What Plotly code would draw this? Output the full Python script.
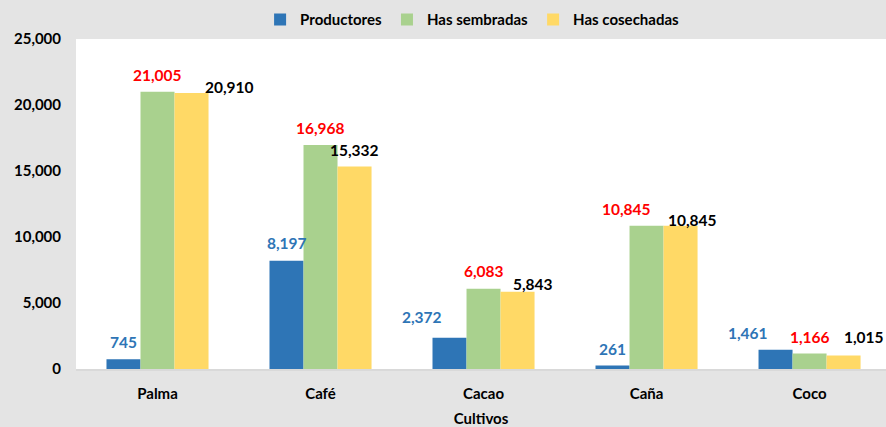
import plotly.graph_objects as go

# Crop data
cultivos = ["Palma", "Café", "Cacao", "Caña", "Coco"]
productores = [745, 8197, 2372, 261, 1461]
has_sembradas = [21005, 16968, 6083, 10845, 1166]
has_cosechadas = [20910, 15332, 5843, 10845, 1015]

y_ticks = [0, 5000, 10000, 15000, 20000, 25000]

series = [
    ("Productores", productores, "#2E75B6", "#2E75B6"),
    ("Has sembradas", has_sembradas, "#A9D18E", "#FF0000"),
    ("Has cosechadas", has_cosechadas, "#FFD966", "#000000"),
]

# Label nudges (px) relative to the default spot just above each bar
label_dx = [
    [0, 0, -28, 0, -28],
    [0, 0, 0, -20, 0],
    [38, 0, 15, 12, 20],
]
label_dy = [
    [0, 1, 4, 0, 0],
    [0, 0, 1, 0, 0],
    [-11, 0, -9, -11, 2],
]

FONT = "Lato"
BARGAP = 0.374
bar_w = (1 - BARGAP) / len(series)
xs = list(range(len(cultivos)))

fig = go.Figure()
annotations = []
for k, (name, vals, color, lab_color) in enumerate(series):
    fig.add_trace(go.Bar(
        name=f"<b>{name}</b>", x=xs, y=vals,
        marker=dict(color=color, line=dict(width=0)),
    ))
    off = (k - (len(series) - 1) / 2) * bar_w
    for i, v in enumerate(vals):
        annotations.append(dict(
            x=i + off, y=v, xref="x", yref="y",
            text=f"<b>{v:,}</b>", showarrow=False,
            xanchor="center", yanchor="middle",
            xshift=label_dx[k][i], yshift=17 + label_dy[k][i],
            font=dict(family=FONT, size=15.5, color=lab_color),
        ))

fig.update_layout(
    width=886, height=427,
    margin=dict(l=76, r=0, t=39, b=58),
    paper_bgcolor="#E4E4E4",
    plot_bgcolor="#FFFFFF",
    barmode="group", bargap=BARGAP, bargroupgap=0,
    font=dict(family=FONT, size=15, color="#000000"),
    annotations=annotations,
    legend=dict(
        orientation="h", x=0.489, xanchor="center", y=1.058, yanchor="middle",
        font=dict(family=FONT, size=15, color="#000000"),
        bgcolor="rgba(0,0,0,0)", itemwidth=30, traceorder="normal",
    ),
    xaxis=dict(
        range=[-0.5, 4.469], tickvals=xs, ticktext=cultivos,
        showgrid=False, zeroline=False, showline=True,
        linecolor="#D9D9D9", linewidth=1.5, ticks="",
        ticklabelstandoff=10,
        tickfont=dict(family=FONT, size=15, color="#000000", weight="bold"),
        title=dict(text="<b>Cultivos</b>", standoff=15,
                   font=dict(family=FONT, size=15, color="#000000")),
    ),
    yaxis=dict(
        range=[0, 25000], tickvals=y_ticks, tickformat=",d",
        showgrid=False, zeroline=False, showline=False, ticks="",
        ticklabelstandoff=14,
        tickfont=dict(family=FONT, size=15, color="#000000", weight="bold"),
    ),
)

fig.write_html("out.html")
